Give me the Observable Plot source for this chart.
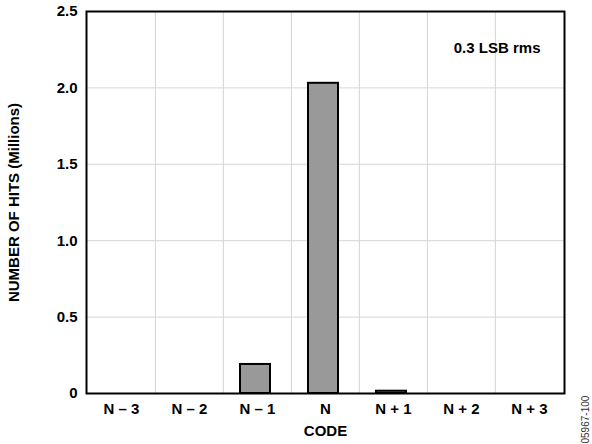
<!DOCTYPE html>
<html>
<head>
<meta charset="utf-8">
<script src="https://cdn.jsdelivr.net/npm/d3@7"></script>
<script src="https://cdn.jsdelivr.net/npm/@observablehq/plot@0.6"></script>
<style>
  html, body { margin: 0; padding: 0; background: #fff; }
  #chart { width: 592px; height: 444px; }
</style>
</head>
<body>
<div id="chart"></div>
<script>
const codes = ["N – 3", "N – 2", "N – 1", "N", "N + 1", "N + 2", "N + 3"];
const hits = [0, 0, 0.19, 2.03, 0.015, 0, 0];
const yTicks = [0, 0.5, 1.0, 1.5, 2.0, 2.5];
const annotation = "0.3 LSB rms";
const figureId = "05967-100";

const data = codes.map((c, i) => ({code: c, hits: hits[i]}));

const W = 592, H = 444;
const mL = 86, mR = 28, mT = 11, mB = 51;
const step = (W - mL - mR) / codes.length;

const chart = Plot.plot({
  width: W,
  height: H,
  marginLeft: mL,
  marginRight: mR,
  marginTop: mT,
  marginBottom: mB,
  style: {fontFamily: "'Liberation Sans', Arial, Helvetica, sans-serif", fontSize: "15px", fontWeight: "bold", color: "#000", background: "#fff"},
  x: {type: "band", domain: codes, padding: 0},
  y: {domain: [0, 2.5]},
  marks: [
    Plot.ruleY(yTicks.slice(1, -1), {stroke: "#d4d4d4", strokeWidth: 1}),
    Plot.ruleX(codes.slice(1), {x: d => d, dx: -step / 2, stroke: "#d4d4d4", strokeWidth: 1}),
    Plot.barY(data, {x: "code", y: "hits", fill: "#999999", stroke: "#000", strokeWidth: 2, insetLeft: 17, insetRight: 21}),
    Plot.frame({stroke: "#000", strokeWidth: 2}),
    Plot.axisY({ticks: yTicks, tickSize: 0, tickPadding: 9, tickFormat: d => d === 0 ? "0" : d.toFixed(1),
      label: "NUMBER OF HITS (Millions)", labelAnchor: "center", labelArrow: "none", labelOffset: 78}),
    Plot.axisX({tickSize: 0, tickPadding: 10, label: "CODE", labelAnchor: "center", labelArrow: "none", labelOffset: 42}),
    Plot.text([annotation], {text: d => d, frameAnchor: "top-right", textAnchor: "end", lineAnchor: "middle", dx: -24, dy: 36.5, fontSize: 15, fontWeight: "bold", fill: "#000"}),
    Plot.text([figureId], {text: d => d, frameAnchor: "bottom-right", textAnchor: "start", lineAnchor: "middle", rotate: -90, dx: 21, dy: 50, fontSize: 10, fontWeight: "normal", fill: "#333"})
  ]
});
document.getElementById("chart").appendChild(chart);
</script>
</body>
</html>
